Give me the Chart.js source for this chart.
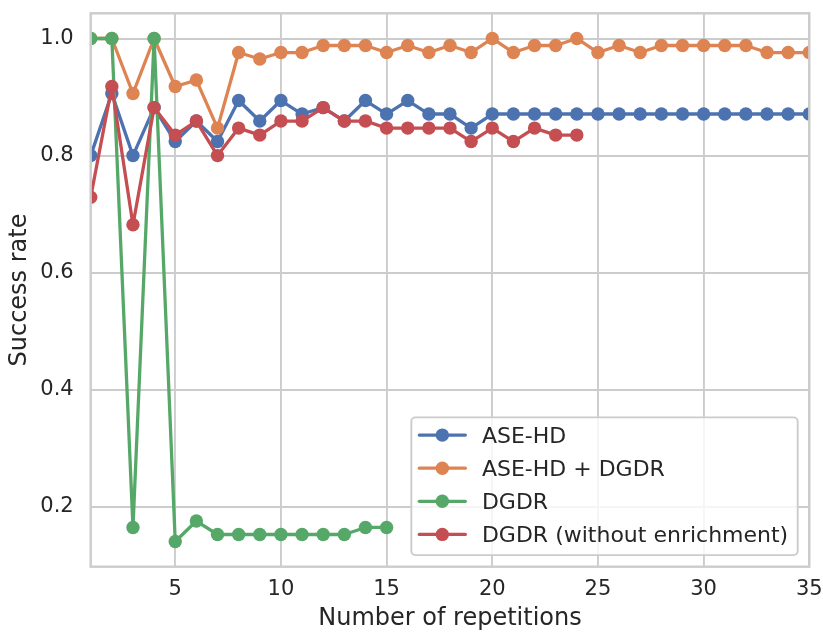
<!DOCTYPE html>
<html>
<head>
<meta charset="utf-8">
<script src="https://cdn.jsdelivr.net/npm/chart.js@4"></script>
<style>
  html, body { margin: 0; padding: 0; background: #ffffff; }
  #wrap { width: 823px; height: 632px; }
</style>
</head>
<body>
<div id="wrap"><canvas id="successChart" width="823" height="632"></canvas></div>
<script>
// --- data ---
const repetitions = Array.from({ length: 35 }, (_, i) => i + 1);
const xTicks = [5, 10, 15, 20, 25, 30, 35];
const yTicks = [0.2, 0.4, 0.6, 0.8, 1.0];

const seriesNames = ["ASE-HD", "ASE-HD + DGDR", "DGDR", "DGDR (without enrichment)"];

const aseHd = [0.800, 0.906, 0.800, 0.882, 0.824, 0.859, 0.824, 0.894, 0.859, 0.894,
  0.871, 0.882, 0.859, 0.894, 0.871, 0.894, 0.871, 0.871, 0.847, 0.871,
  0.871, 0.871, 0.871, 0.871, 0.871, 0.871, 0.871, 0.871, 0.871, 0.871,
  0.871, 0.871, 0.871, 0.871, 0.871];
const aseHdDgdr = [1.000, 1.000, 0.906, 1.000, 0.918, 0.929, 0.847, 0.976, 0.965, 0.976,
  0.976, 0.988, 0.988, 0.988, 0.976, 0.988, 0.976, 0.988, 0.976, 1.000,
  0.976, 0.988, 0.988, 1.000, 0.976, 0.988, 0.976, 0.988, 0.988, 0.988,
  0.988, 0.988, 0.976, 0.976, 0.976];
const dgdr = [1.000, 1.000, 0.165, 1.000, 0.141, 0.176, 0.153, 0.153, 0.153, 0.153,
  0.153, 0.153, 0.153, 0.165, 0.165];
const dgdrNoEnrich = [0.729, 0.918, 0.682, 0.882, 0.835, 0.859, 0.800, 0.847, 0.835, 0.859,
  0.859, 0.882, 0.859, 0.859, 0.847, 0.847, 0.847, 0.847, 0.824, 0.847,
  0.824, 0.847, 0.835, 0.835];

const colors = ["#4c72b0", "#dd8452", "#55a868", "#c44e52"];
const FONT = "'DejaVu Sans', sans-serif";
const TEXT = "#262626";
const GRID = "#cccccc";

function toPoints(values) {
  return values.map((v, i) => ({ x: repetitions[i], y: v }));
}

// matplotlib draws later series on top; chart.js draws lower "order" on top
const datasets = [aseHd, aseHdDgdr, dgdr, dgdrNoEnrich].map((vals, i) => ({
  label: seriesNames[i],
  data: toPoints(vals),
  borderColor: colors[i],
  backgroundColor: colors[i],
  borderWidth: 3.3,
  borderCapStyle: "round",
  borderJoinStyle: "round",
  pointRadius: 6.7,
  pointHoverRadius: 6.7,
  pointBorderWidth: 0,
  pointBackgroundColor: colors[i],
  tension: 0,
  clip: 0,
  order: 4 - i,
}));

// no extra room for half tick labels, the layout padding does that
function noLabelPadding(scale) {
  scale.paddingTop = 0;
  scale.paddingBottom = 0;
  scale.paddingLeft = 0;
  scale.paddingRight = 0;
}

// frame around the axes, drawn above the lines like the spines
const framePlugin = {
  id: "frame",
  afterDatasetsDraw(chart) {
    const { ctx, chartArea: a } = chart;
    ctx.save();
    ctx.strokeStyle = GRID;
    ctx.lineWidth = 2.4;
    ctx.strokeRect(a.left, a.top, a.right - a.left, a.bottom - a.top);
    ctx.restore();
  },
};

// legend in the lower right corner of the plot area
const legendPlugin = {
  id: "cornerLegend",
  afterDraw(chart) {
    const { ctx, chartArea: a } = chart;
    const fontSize = 22;
    const rowH = 33.1;
    const padTop = 17.7;
    const padBottom = 20.7;
    ctx.save();
    ctx.font = fontSize + "px " + FONT;
    const textW = Math.max(...chart.data.datasets.map((d) => ctx.measureText(d.label).width));
    const boxW = 70.6 + textW + 9.5;
    const boxH = padTop + rowH * (chart.data.datasets.length - 1) + padBottom;
    const right = a.right - 11.6;
    const bottom = a.bottom - 11.6;
    const left = right - boxW;
    const top = bottom - boxH;

    ctx.beginPath();
    ctx.roundRect(left, top, boxW, boxH, 4);
    ctx.fillStyle = "rgba(255,255,255,0.8)";
    ctx.fill();
    ctx.strokeStyle = GRID;
    ctx.lineWidth = 1.9;
    ctx.stroke();

    chart.data.datasets.forEach((d, i) => {
      const y = top + padTop + i * rowH;
      ctx.strokeStyle = d.borderColor;
      ctx.lineWidth = 3.3;
      ctx.lineCap = "round";
      ctx.beginPath();
      ctx.moveTo(left + 8, y);
      ctx.lineTo(left + 54, y);
      ctx.stroke();
      ctx.fillStyle = d.borderColor;
      ctx.beginPath();
      ctx.arc(left + 31, y, 6.7, 0, Math.PI * 2);
      ctx.fill();
      ctx.fillStyle = TEXT;
      ctx.textBaseline = "alphabetic";
      ctx.textAlign = "left";
      ctx.fillText(d.label, left + 70.6, y + 8);
    });
    ctx.restore();
  },
};

new Chart(document.getElementById("successChart").getContext("2d"), {
  type: "line",
  data: { datasets: datasets },
  options: {
    responsive: false,
    animation: false,
    events: [],
    layout: { padding: { top: 13.3, right: 13.7, left: 0, bottom: 0 } },
    plugins: { legend: { display: false }, tooltip: { enabled: false } },
    scales: {
      x: {
        type: "linear",
        min: 1,
        max: 35,
        afterBuildTicks: (scale) => { scale.ticks = xTicks.map((v) => ({ value: v })); },
        afterFit: (scale) => { scale.height = 65.3; noLabelPadding(scale); },
        grid: { color: GRID, lineWidth: 1.9, drawTicks: false },
        border: { display: false },
        ticks: {
          color: TEXT,
          font: { family: FONT, size: 21 },
          padding: 10,
          maxRotation: 0,
          callback: (v) => String(v),
        },
        title: {
          display: true,
          text: "Number of repetitions",
          color: TEXT,
          font: { family: FONT, size: 24 },
          padding: { top: 0, bottom: -1.5 },
        },
      },
      y: {
        type: "linear",
        min: 0.098,
        max: 1.043,
        afterBuildTicks: (scale) => { scale.ticks = yTicks.map((v) => ({ value: v })); },
        afterFit: (scale) => { scale.width = 90.7; noLabelPadding(scale); },
        grid: { color: GRID, lineWidth: 1.9, drawTicks: false },
        border: { display: false },
        ticks: {
          color: TEXT,
          font: { family: FONT, size: 21 },
          padding: 17,
          callback: (v) => v.toFixed(1),
        },
        title: {
          display: true,
          text: "Success rate",
          color: TEXT,
          font: { family: FONT, size: 24 },
          padding: { top: 5, bottom: 0 },
        },
      },
    },
  },
  plugins: [framePlugin, legendPlugin],
});
</script>
</body>
</html>
